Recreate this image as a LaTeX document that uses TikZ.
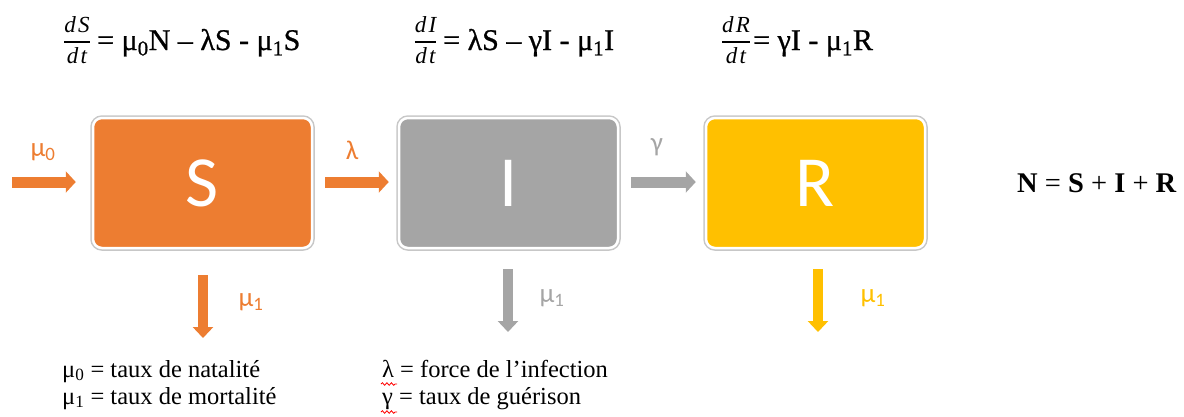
\documentclass[tikz,border=0pt]{standalone}
\usepackage{fontspec}
\setmainfont{Liberation Serif}
\newfontfamily\calib{Carlito}
\newfontfamily\fracfont[LetterSpace=10]{Liberation Serif}
\usetikzlibrary{arrows.meta,decorations.pathmorphing}
\definecolor{corange}{HTML}{ED7D31}
\definecolor{cgray}{HTML}{A5A5A5}
\definecolor{cyellow}{HTML}{FFC000}
\setlength{\arrayrulewidth}{1.8pt}
\begin{document}
\begin{tikzpicture}[x=1pt,y=-1pt,
  box/.style={rectangle, rounded corners=9pt, minimum width=219pt, minimum height=130pt,
    draw=white, line width=2.5pt, preaction={draw=black!22, line width=5.5pt},
    text=white, font=\calib\fontsize{72}{72}\selectfont, inner sep=0pt},
  harr/.style={draw=#1, line width=11pt, -{Triangle[length=10pt,width=21pt]}},
  varr/.style={draw=#1, line width=10pt, -{Triangle[length=11pt,width=20pt]}},
  lab/.style={text=#1, font=\calib\fontsize{27}{27}\selectfont, inner sep=0pt},
  eq/.style={font=\fontsize{30}{30}\selectfont\addfontfeatures{FakeBold=0.8}, inner sep=0pt, anchor=base west},
  fracn/.style={font=\fracfont\fontsize{23}{30}\selectfont\itshape, inner sep=0pt},
  note/.style={font=\fontsize{24.5}{25}\selectfont, inner sep=0pt, anchor=base west},
  wavy/.style={draw=red, line width=0.8pt, decorate, decoration={snake, amplitude=1.3pt, segment length=4.5pt}}
]
\useasboundingbox (0,0) rectangle (1184,416);

% equations
\node[fracn] (f1) at (77,42) {\begin{tabular}{@{}c@{}}dS\\\hline dt\end{tabular}};
\node[eq] (e1) at (97,50) {= μ\textsubscript{0}N – λS - μ\textsubscript{1}S};
\node[fracn] (f2) at (425.5,42) {\begin{tabular}{@{}c@{}}dI\\\hline dt\end{tabular}};
\node[eq] (e2) at (443,50) {= λS – γI - μ\textsubscript{1}I};
\node[fracn] (f3) at (736,42) {\begin{tabular}{@{}c@{}}dR\\\hline dt\end{tabular}};
\node[eq] (e3) at (753,50) {= γI - μ\textsubscript{1}R};

% boxes
\node[box, fill=corange] (S) at (202.5,183) {S};
\node[box, fill=cgray] (I) at (508.5,183) {I};
\node[box, fill=cyellow] (R) at (815.5,183) {R};

% horizontal arrows
\coordinate (in0) at (12,182);
\draw[harr=corange] (in0) -- ([xshift=-16pt]S.west |- in0);
\draw[harr=corange] ([xshift=12pt]S.east |- in0) -- ([xshift=-9pt]I.west |- in0);
\draw[harr=cgray] ([xshift=12pt]I.east |- in0) -- ([xshift=-9pt]R.west |- in0);

\node[lab=corange] (m0) at (43,152) {μ\textsubscript{0}};
\node[lab=corange] (la) at (352,150) {λ};
\node[lab=cgray] (ga) at (657,147) {γ};

% down arrows
\coordinate (sout) at (203,338);
\coordinate (iout) at (508,332);
\coordinate (rout) at (818,332);
\draw[varr=corange, shorten <=26pt] (S.south -| sout) -- (sout);
\draw[varr=cgray, shorten <=20pt] (I.south -| iout) -- (iout);
\draw[varr=cyellow, shorten <=20pt] (R.south -| rout) -- (rout);

\node[lab=corange] (m1s) at (251,302) {μ\textsubscript{1}};
\node[lab=cgray] (m1i) at (552,298) {μ\textsubscript{1}};
\node[lab=cyellow] (m1r) at (873,298) {μ\textsubscript{1}};

% N = S + I + R
\node[font=\fontsize{28.5}{29}\selectfont, inner sep=0pt, anchor=base west] (N) at (1017,192) {\textbf{N} = \textbf{S} + \textbf{I} + \textbf{R}};

% notes
\node[note] (n1) at (62,377) {μ\textsubscript{0} = taux de natalité};
\node[note] (n2) at (62,404) {μ\textsubscript{1} = taux de mortalité};
\node[note] (n3) at (382,377) {λ = force de l’infection};
\node[note] (n4) at (382,404) {γ = taux de guérison};
\draw[wavy] (381,384) -- (397,384);
\draw[wavy] (381,412) -- (397,412);
\end{tikzpicture}
\end{document}
